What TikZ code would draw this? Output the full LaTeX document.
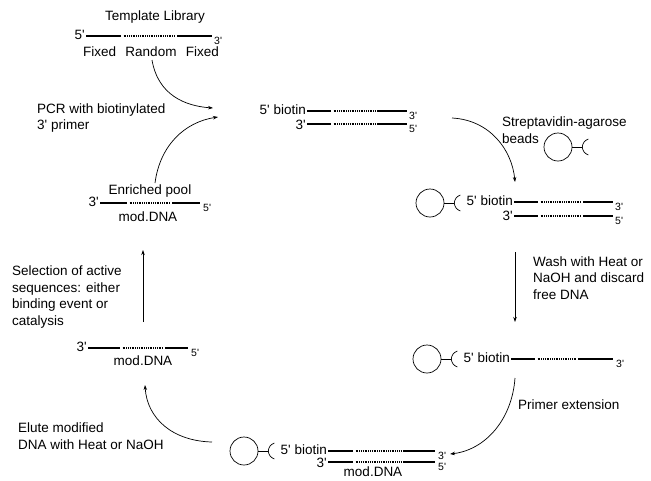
\documentclass[tikz,border=0pt]{standalone}
\usepackage{fontspec}
\setmainfont{Liberation Sans}
\usetikzlibrary{arrows.meta, positioning}

% one strand: y, x start, random start, random end, x end
\newcommand{\dnastrand}[5]{%
  \draw[fixedpart] (#2,#1) -- (#3,#1);
  \draw[randompart] (#3+2.5,#1) -- (#4-1.5,#1);
  \draw[fixedpart] (#4,#1) -- (#5,#1);}
% stick and streptavidin cup on a bead
\newcommand{\linker}[1]{%
  \draw[thinline] (#1.east) -- ++(10,0) coordinate (#1_s);
  \draw[thinline] ([shift={(6,-8)}]#1_s) .. controls ([shift={(-2,-5)}]#1_s) and ([shift={(-2,5)}]#1_s) .. ([shift={(6,8)}]#1_s);}

\begin{document}
\begin{tikzpicture}[x=1pt,y=-1pt,
  lbl/.style={font=\fontsize{13.5}{16.5}\selectfont, inner sep=0pt, align=left},
  endlbl/.style={font=\fontsize{10.5}{11}\selectfont, inner sep=0pt, anchor=west},
  fixedpart/.style={line width=2.4pt},
  randompart/.style={line width=1.8pt, dash pattern=on 1pt off 0.8pt},
  thinline/.style={line width=0.7pt},
  bead/.style={circle, draw, line width=0.7pt, minimum size=28pt, inner sep=0pt},
  flow/.style={line width=0.7pt, -{Stealth[length=5pt,width=3.5pt]}}]
  \useasboundingbox (0,0) rectangle (651,480);

  % template library
  \node[lbl] (tpl) at (155,17) {Template Library};
  \node[lbl, anchor=east] (tpl_5) at (85,35) {5\textquotesingle};
  \dnastrand{36}{86}{121}{177}{212}
  \node[endlbl] (tpl_3) at (214,41) {3\textquotesingle};
  \node[lbl] (rand) at (151,52) {Random};
  \node[lbl] (fix_l) [left=9pt of rand] {Fixed};
  \node[lbl] (fix_r) [right=9pt of rand] {Fixed};

  % PCR product
  \node[lbl, anchor=west] (pcr) at (37,118) {PCR with biotinylated\\3\textquotesingle{} primer};
  \node[lbl, anchor=east] (dup_a5) at (306,110) {5\textquotesingle{} biotin};
  \dnastrand{111}{307}{331}{377}{407}
  \node[endlbl] (dup_a3) at (409,116) {3\textquotesingle};
  \node[lbl, anchor=east] (dup_b3) at (306,125) {3\textquotesingle};
  \dnastrand{124}{307}{331}{377}{407}
  \node[endlbl] (dup_b5) at (409,129) {5\textquotesingle};

  % beads
  \node[lbl, anchor=west] (strep) at (502,130) {Streptavidin-agarose\\beads};
  \node[bead] (bead_1) at (558,147) {};
  \linker{bead_1}

  % captured duplex
  \node[bead] (bead_2) at (430,203) {};
  \linker{bead_2}
  \node[lbl, anchor=east] (cap_a5) at (513,201) {5\textquotesingle{} biotin};
  \dnastrand{202}{514}{538}{583}{613}
  \node[endlbl] (cap_a3) at (615,207) {3\textquotesingle};
  \node[lbl, anchor=east] (cap_b3) at (513,216) {3\textquotesingle};
  \dnastrand{216}{514}{538}{583}{613}
  \node[endlbl] (cap_b5) at (615,221) {5\textquotesingle};

  % wash
  \node[lbl, anchor=west] (wash) at (533,278) {Wash with Heat or\\NaOH and discard\\free DNA};

  % single strand on bead
  \node[bead] (bead_3) at (427,359) {};
  \linker{bead_3}
  \node[lbl, anchor=east] (ss_5) at (510,358) {5\textquotesingle{} biotin};
  \dnastrand{359}{511}{535}{578}{613}
  \node[endlbl] (ss_3) at (616,364) {3\textquotesingle};
  \node[lbl, anchor=west] (prim) at (518,405) {Primer extension};

  % extended duplex
  \node[bead] (bead_4) at (244,451) {};
  \linker{bead_4}
  \node[lbl, anchor=east] (ext_a5) at (327,450) {5\textquotesingle{} biotin};
  \dnastrand{451}{328}{353}{403}{435}
  \node[endlbl] (ext_a3) at (438,456) {3\textquotesingle};
  \node[lbl, anchor=east] (ext_b3) at (327,463) {3\textquotesingle};
  \dnastrand{462}{328}{353}{403}{435}
  \node[endlbl] (ext_b5) at (438,467) {5\textquotesingle};
  \node[lbl] (ext_mod) at (373,472) {mod.DNA};

  % eluted strand
  \node[lbl, anchor=west] (elute) at (18,436) {Elute modified\\DNA with Heat or NaOH};
  \node[lbl, anchor=east] (mod_3) at (87,347) {3\textquotesingle};
  \dnastrand{348}{88}{120}{165}{188}
  \node[endlbl] (mod_5) at (191,353) {5\textquotesingle};
  \node[lbl] (mod_lbl) at (143,361) {mod.DNA};
  \node[lbl, anchor=west] (select) at (12,297) {Selection of active\\sequences: either\\binding event or\\catalysis};

  % enriched pool
  \node[lbl] (pool) at (150,191) {Enriched pool};
  \node[lbl, anchor=east] (pool_3) at (99,202) {3\textquotesingle};
  \dnastrand{203}{100}{127}{172}{200}
  \node[endlbl] (pool_5) at (203,208) {5\textquotesingle};
  \node[lbl] (pool_mod) at (148,217) {mod.DNA};

  % cycle arrows
  \coordinate (lib_out) at (152,60);
  \coordinate (pcr_in_a) at (213,108);
  \coordinate (pool_out) at (155,183);
  \coordinate (pcr_in_b) at (218,117);
  \coordinate (dup_out) at (452,118);
  \coordinate (cap_in) at (515,182);
  \coordinate (wash_s) at (515,252);
  \coordinate (wash_e) at (515,322);
  \coordinate (ext_s) at (515,378);
  \coordinate (ext_e) at (450,454);
  \coordinate (elu_s) at (212,442);
  \coordinate (elu_e) at (145,385);
  \coordinate (sel_s) at (143,322);
  \coordinate (sel_e) at (143,250);

  \draw[flow] (lib_out) .. controls (158,95) and (185,106) .. (pcr_in_a);
  \draw[flow] (pool_out) .. controls (160,145) and (185,122) .. (pcr_in_b);
  \draw[flow] (dup_out) .. controls (490,120) and (512,150) .. (cap_in);
  \draw[flow] (wash_s) -- (wash_e);
  \draw[flow] (ext_s) .. controls (512,420) and (485,450) .. (ext_e);
  \draw[flow] (elu_s) .. controls (172,441) and (147,418) .. (elu_e);
  \draw[flow] (sel_s) -- (sel_e);
\end{tikzpicture}
\end{document}
